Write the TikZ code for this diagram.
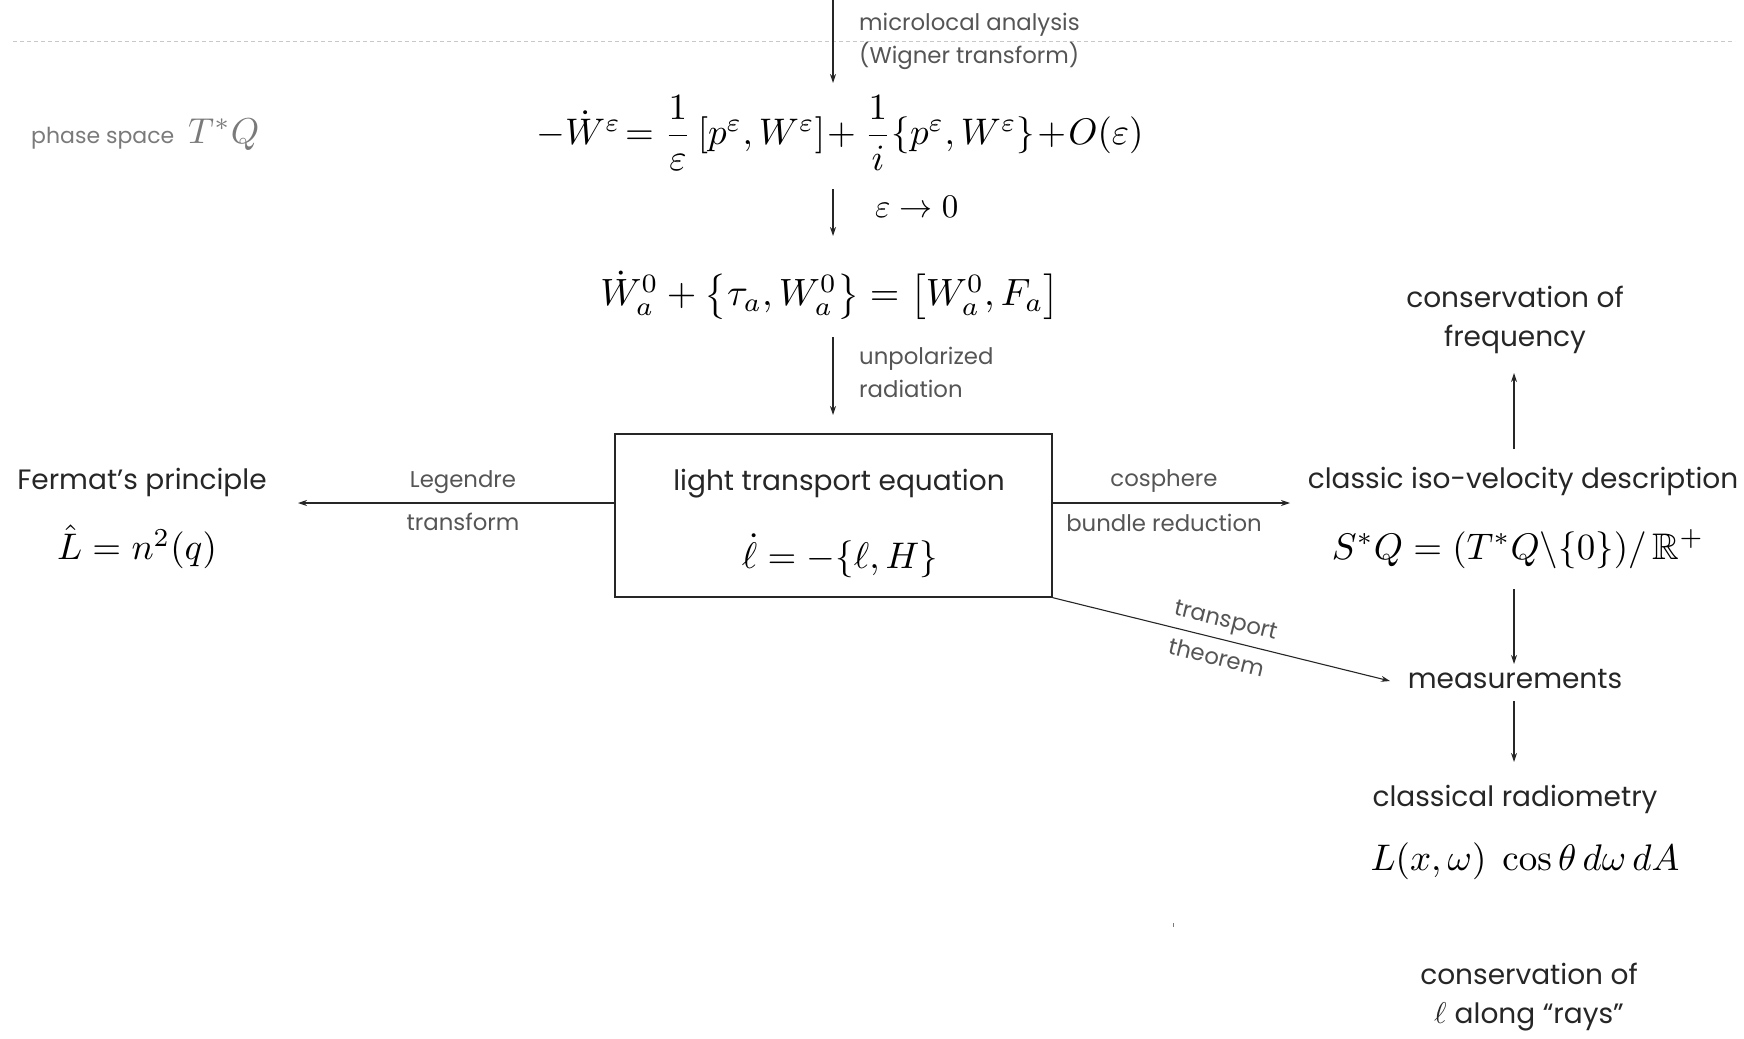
\documentclass[tikz,border=0pt]{standalone}
\usepackage{amsmath,amssymb}
\usepackage[no-math]{fontspec}
\setmainfont{Poppins}
\usetikzlibrary{arrows.meta}
\definecolor{txt}{HTML}{262626}
\definecolor{lbl}{HTML}{555555}
\definecolor{faint}{HTML}{7A7A7A}
\definecolor{dashc}{HTML}{C8C8C8}
\newcommand{\mymath}[2][3.7]{\scalebox{#1}{\normalsize$#2$}}
\begin{document}
\begin{tikzpicture}[x=1pt,y=-1pt,
  main/.style={text=txt, font=\fontsize{28}{39}\selectfont, align=center, inner sep=0pt},
  lab/.style={text=lbl, font=\fontsize{22.8}{32}\selectfont, inner sep=0pt},
  mth/.style={text=black, inner sep=0pt},
  arr/.style={draw=txt, line width=1.1pt, -{Stealth[length=9pt,width=6pt]}},
]
\useasboundingbox (0,0) rectangle (1744,1038);
% dashed separator
\coordinate (dl) at (13,41);
\coordinate (dr) at (1735,41);
\draw[dashc, line width=0.8pt, dash pattern=on 4pt off 3pt] (dl) -- (dr);

% labels on the left
\node[anchor=west, text=faint, font=\fontsize{22}{26}\selectfont, inner sep=0pt] (phase) at (31,135)
  {phase space\hspace{14pt}\mymath[3.6]{T^*Q}};

% central chain
\node[mth] (eq1) at (840,133)
  {\mymath{-\dot W^{\varepsilon}\!= \dfrac{1}{\varepsilon}\,[p^{\varepsilon},W^{\varepsilon}]\!+\dfrac{1}{i}\{p^{\varepsilon},W^{\varepsilon}\}\!+\!O(\varepsilon)}};
\node[mth] (eq2) at (830,295)
  {\mymath[3.8]{\dot W_a^0+\bigl\{\tau_a,W_a^0\bigr\}=\bigl[W_a^0,F_a\bigr]}};

\node[draw=txt, line width=1.3pt, minimum width=437pt, minimum height=163pt, inner sep=0pt] (box) at (833.5,515.5) {};
\node[main] (lte) at (839,484) {light transport equation};
\node[mth] (ltem) at (840,556) {\mymath{\dot\ell=-\{\ell,H\}}};

\node[main] (fermat) at (142,482.5) {Fermat’s principle};
\node[mth] (fermatm) at (137,547) {\mymath{\hat L=n^2(q)}};

\node[main] (iso) at (1523,481.5) {classic iso-velocity description};
\node[mth] (isom) at (1518,549) {\mymath{S^*Q=(T^*Q\backslash\{0\})/\,\mathbb{R}^+}};

\node[main] (freq) at (1515,319.5) {conservation of\\frequency};
\node[main] (meas) at (1515,679) {measurements};
\node[main] (radio) at (1515,799.5) {classical radiometry};
\node[mth] (radiom) at (1525,861) {\mymath{L(x,\omega)\ \cos\theta\,d\omega\,dA}};
\node[main] (rays) at (1529,997) {conservation of\\\mymath[3.0]{\ell}\hspace{8pt}along ``rays''};

% arrows
\coordinate (a1s) at (833,0);
\coordinate (a1e) at (833,83);
\draw[arr] (a1s) -- (a1e);
\node[lab, anchor=west] (mla) at (859,25) {microlocal analysis};
\node[lab, anchor=west] (wig) at (859,56) {(Wigner transform)};

\coordinate (a2s) at (833,189);
\coordinate (a2e) at (833,236);
\draw[arr] (a2s) -- (a2e);
\node[anchor=west, inner sep=0pt] (eps) at (875,207) {\mymath[3.3]{\varepsilon\to 0}};

\coordinate (a3s) at (833,337);
\coordinate (a3e) at (833,415);
\draw[arr] (a3s) -- (a3e);
\node[lab, anchor=west] (unp) at (859,359) {unpolarized};
\node[lab, anchor=west] (rad) at (859,389) {radiation};

\coordinate (lend) at (298,503);
\draw[arr] (box.west |- lend) -- (lend);
\node[lab] (leg1) at (463,482.5) {Legendre};
\node[lab] (leg2) at (463,522) {transform};

\coordinate (rend) at (1290,503);
\draw[arr] (box.east |- rend) -- (rend);
\node[lab] (cos1) at (1164,481.5) {cosphere};
\node[lab] (cos2) at (1164,523) {bundle reduction};

\coordinate (ups) at (1514,449);
\coordinate (upe) at (1514,373);
\draw[arr] (ups) -- (upe);

\coordinate (d1s) at (1514,589);
\coordinate (d1e) at (1514,664);
\draw[arr] (d1s) -- (d1e);

\coordinate (diage) at (1390,681);
\draw[arr] (box.south east) -- node[lab, sloped, above=6pt, pos=0.5] (tr1) {transport}
  node[lab, sloped, below=9pt, pos=0.5] (tr2) {theorem} (diage);

\coordinate (d2s) at (1514,701);
\coordinate (d2e) at (1514,762);
\draw[arr] (d2s) -- (d2e);

% tiny mark
\fill[faint] (1172.5,923) rectangle (1173.5,927);
\end{tikzpicture}
\end{document}
